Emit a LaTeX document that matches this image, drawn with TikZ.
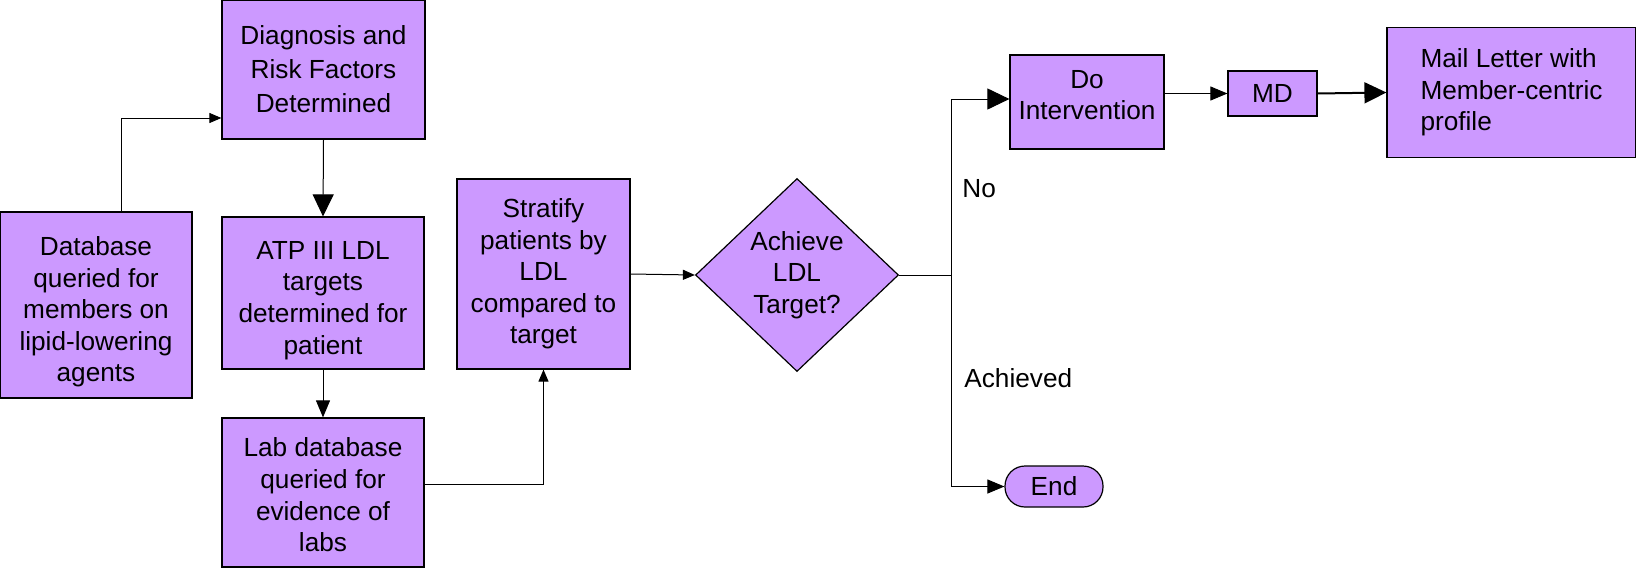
\documentclass[tikz,border=0pt]{standalone}
\usepackage{fontspec}
\setmainfont{Liberation Sans}
\usepackage{xcolor}
\usetikzlibrary{arrows.meta,shapes.geometric}

\definecolor{boxpurple}{HTML}{CC99FF}

\begin{document}
\begin{tikzpicture}[x=0.5pt, y=-0.5pt,
    every node/.style={font=\fontsize{13.1pt}{15.8pt}\selectfont},
    box/.style={draw, line width=0.6pt, fill=boxpurple, align=center, inner sep=0pt},
    link/.style={line width=0.5pt},
    arrs/.style={link, -{Triangle[length=6pt,width=5pt]}},
    arrm/.style={link, -{Triangle[length=8.5pt,width=7pt]}},
    arrb/.style={link, -{Triangle[length=11pt,width=10.5pt]}}]
    \useasboundingbox (0,0) rectangle (1636,568);

    % Query and lab steps
    \node[box, minimum width=96pt, minimum height=93pt] (db) at (96,305)
        {\rule{0pt}{16.5pt}Database\\queried for\\members on\\lipid-lowering\\agents};
    \node[box, minimum width=101.5pt, minimum height=69.5pt,
        font=\fontsize{13.1pt}{17pt}\selectfont] (diag) at (323.5,69.5)
        {Diagnosis and\\Risk Factors\\Determined};
    \node[box, minimum width=101pt, minimum height=76pt] (atp) at (323,293)
        {\rule{0pt}{16.5pt}ATP III LDL\\targets\\determined for\\patient};
    \node[box, minimum width=101pt, minimum height=74.5pt] (lab) at (323,492.5)
        {\rule{0pt}{12pt}Lab database\\queried for\\evidence of\\labs};
    \node[box, minimum width=86.5pt, minimum height=95pt] (strat) at (543.5,274)
        {Stratify\\patients by\\LDL\\compared to\\target};

    % Decision
    \node[box, diamond, minimum width=101.5pt, minimum height=96.5pt] (ach) at (797,275)
        {Achieve\\LDL\\Target?};
    \coordinate (split) at (951,275);
    \node[anchor=west, inner sep=0pt] (nolbl) at (962,189) {No};
    \node[anchor=west, inner sep=0pt] (achlbl) at (964,378) {Achieved};

    % Intervention branch
    \node[box, minimum width=77pt, minimum height=47pt] (doint) at (1087,102)
        {Do\\Intervention\rule[-7pt]{0pt}{0pt}};
    \node[box, minimum width=44.5pt, minimum height=22.5pt] (md) at (1272.5,93.5) {MD};
    \node[box, minimum width=124.5pt, minimum height=65pt, align=left] (mail) at (1511.5,92.5)
        {Mail Letter with\\Member-centric\\profile};
    \node[box, rounded corners=10pt, minimum width=49pt, minimum height=20.5pt] (endn) at (1054,486.5) {End};

    % Connectors
    \draw[arrs] ([xshift=12.5pt]db.north) |- ([yshift=-24.25pt]diag.west);
    \draw[arrb] (diag.south) -- (atp.north);
    \draw[arrm] (atp.south) -- (lab.north);
    \draw[arrs] ([yshift=4.25pt]lab.east) -| (strat.south);
    \draw[arrs] (strat.east) -- (ach.west);
    \draw[link] (ach.east) -- (split);
    \draw[arrb] (split) |- ([yshift=1.5pt]doint.west);
    \draw[arrm] (split) |- (endn.west);
    \draw[arrm] (doint.east |- md.west) -- (md.west);
    \draw[arrb, line width=1pt] (md.east) -- (mail.west);
\end{tikzpicture}
\end{document}
